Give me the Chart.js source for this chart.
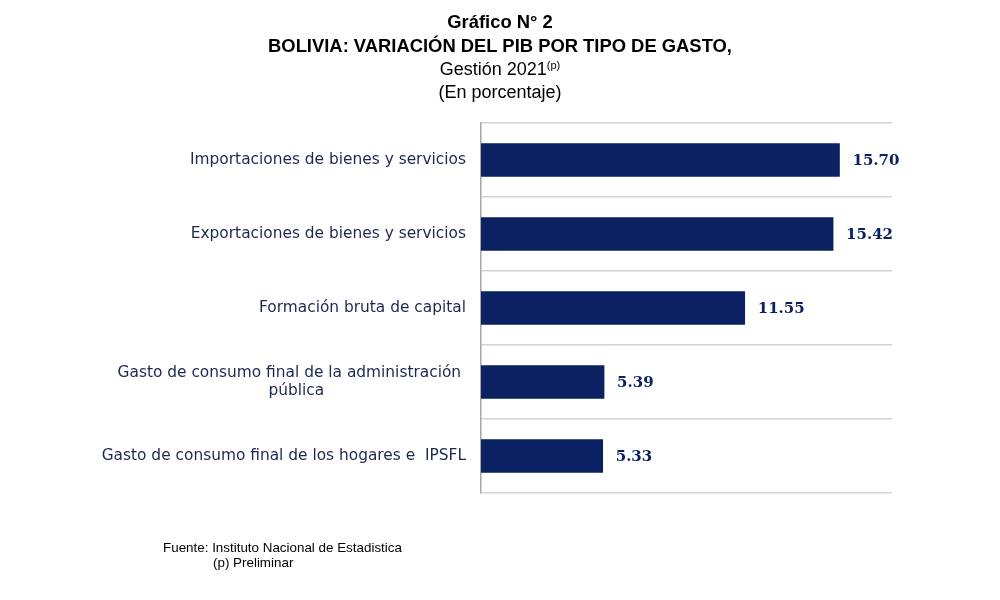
<!DOCTYPE html>
<html>
<head>
<meta charset="utf-8">
<script src="https://cdn.jsdelivr.net/npm/chart.js@4.4.1/dist/chart.umd.min.js"></script>
<style>
    body { margin: 0; background: #fff; }
    #wrap { position: relative; width: 1000px; height: 600px; overflow: hidden; }
    #titulo {
        position: absolute; top: 10px; left: 0; width: 1000px;
        text-align: center; font-family: "Liberation Sans", Arial, sans-serif;
        font-size: 18px; line-height: 23px; color: #000;
    }
    #titulo b { font-weight: bold; font-size: 18.4px; }
    #titulo sup { font-size: 11px; vertical-align: 6px; line-height: 0; }
    #fuente {
        position: absolute; top: 540px; left: 163px;
        font-family: "Liberation Sans", Arial, sans-serif;
        font-size: 13.4px; line-height: 15px; color: #000;
    }
    #grafico { position: absolute; top: 0; left: 0; }
</style>
</head>
<body>
<div id="wrap">
    <canvas id="grafico" width="1000" height="600"></canvas>
    <div id="titulo">
        <b>Gráfico N° 2</b><br>
        <b>BOLIVIA: VARIACIÓN DEL PIB POR TIPO DE GASTO,</b><br>
        Gestión 2021<sup>(p)</sup><br>
        (En porcentaje)
    </div>
    <div id="fuente">
        Fuente: Instituto Nacional de Estadistica<br>
        <span style="padding-left:50px">(p) Preliminar</span>
    </div>
</div>
<script>
// categorías (de arriba hacia abajo) y variación en %
const categorias = [
    "Importaciones de bienes y servicios",
    "Exportaciones de bienes y servicios",
    "Formación bruta de capital",
    ["Gasto de consumo final de la administración ", "pública                             "],
    "Gasto de consumo final de los hogares e  IPSFL"
];
const variacion = [15.70, 15.42, 11.55, 5.39, 5.33];

const AZUL = "#0b2161";

// etiquetas de valor al final de cada barra
const etiquetasValor = {
    id: "etiquetasValor",
    afterDatasetsDraw(chart) {
        const ctx = chart.ctx;
        const meta = chart.getDatasetMeta(0);
        ctx.save();
        ctx.font = "bold 15px 'DejaVu Serif', serif";
        ctx.fillStyle = AZUL;
        ctx.textAlign = "left";
        ctx.textBaseline = "middle";
        meta.data.forEach((bar, i) => {
            ctx.fillText(variacion[i].toFixed(2), bar.x + 13, bar.y + 1);
        });
        ctx.restore();
    }
};

new Chart(document.getElementById("grafico"), {
    type: "bar",
    data: {
        labels: categorias,
        datasets: [{
            data: variacion,
            backgroundColor: AZUL,
            barThickness: 33
        }]
    },
    options: {
        indexAxis: "y",
        responsive: false,
        animation: false,
        layout: { padding: { top: 123, right: 108, bottom: 107, left: 0 } },
        plugins: {
            legend: { display: false },
            tooltip: { enabled: false }
        },
        scales: {
            x: {
                display: false,
                min: 0,
                max: 18
            },
            y: {
                afterFit(scale) { scale.width = 481; },
                grid: {
                    offset: true,
                    color: "#d4d4d4",
                    lineWidth: 1.5,
                    drawTicks: false
                },
                border: { color: "#a6a6a6", width: 1.5 },
                ticks: {
                    padding: 15,
                    color: "#1c2850",
                    font: { family: "'DejaVu Sans', Verdana, sans-serif", size: 15.4 }
                }
            }
        }
    },
    plugins: [etiquetasValor]
});
</script>
</body>
</html>
